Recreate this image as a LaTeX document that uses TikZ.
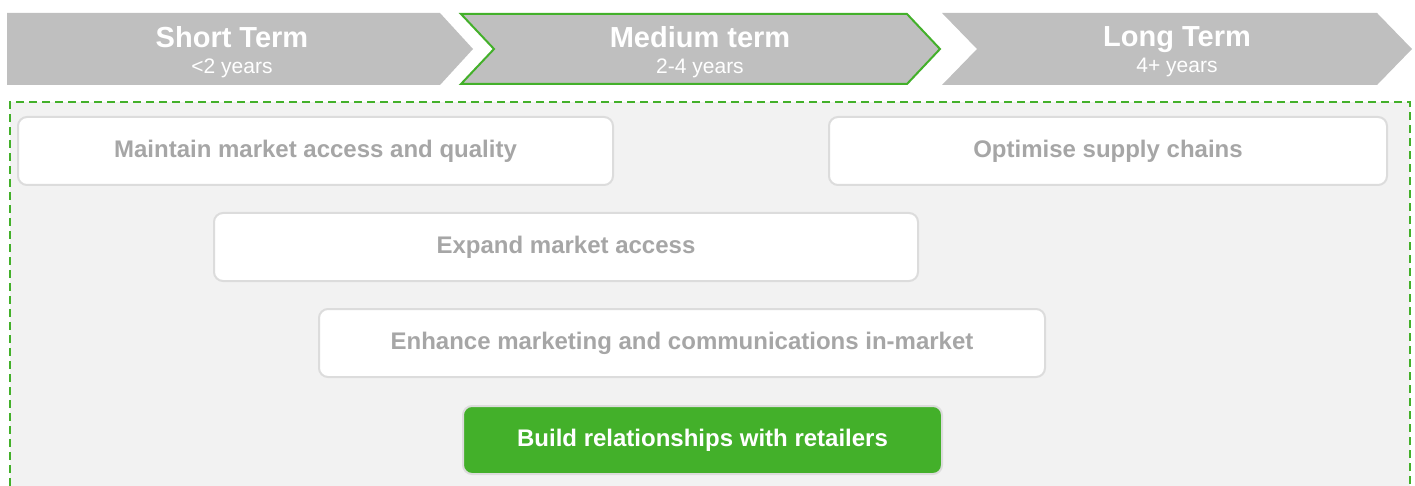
\documentclass[tikz,border=0pt]{standalone}
\usepackage{fontspec}
\setmainfont{Liberation Sans}
\definecolor{kgreen}{HTML}{43B02A}
\definecolor{phasegray}{HTML}{BFBFBF}
\definecolor{boxline}{HTML}{DCDCDC}
\definecolor{boxtext}{HTML}{A6A6A6}
\definecolor{panel}{HTML}{F2F2F2}
\tikzset{
  phasetext/.style={text=white, align=center, font=\fontsize{21}{26}\selectfont},
  goal/.style={draw=boxline, line width=2pt, fill=white, rounded corners=9pt,
    minimum height=68pt, inner sep=0pt, text=boxtext,
    font=\bfseries\fontsize{24}{28}\selectfont},
  keygoal/.style={goal, fill=kgreen, text=white}
}
\begin{document}
\begin{tikzpicture}[x=1pt, y=-1pt]
      \useasboundingbox (0,0) rectangle (1415,486);

      % time phases
      \fill [phasegray] (7,13) -- (440,13) -- (473,49) -- (440,85) -- (7,85) -- cycle;
      \draw [fill=phasegray, draw=kgreen, line width=2pt] (461,14) -- (907,14) -- (940,49) -- (907,84) -- (461,84) -- (494,49) -- cycle;
      \fill [phasegray] (942,13) -- (1377,13) -- (1412,49) -- (1377,85) -- (942,85) -- (977,49) -- cycle;

      \node [phasetext] (short) at (232,52) {{\bfseries\fontsize{29}{26}\selectfont Short Term}\\<2 years};
      \node [phasetext] (medium) at (700,52) {{\bfseries\fontsize{29}{26}\selectfont Medium term}\\2-4 years};
      \node [phasetext] (long) at (1177,52) {{\bfseries\fontsize{29}{26}\selectfont Long Term}\\4+ years};

      % panel
      \fill [panel] (10,102) rectangle (1410,486);
      \draw [kgreen, line width=2pt, dash pattern=on 8pt off 5pt] (10,486) -- (10,102) -- (1410,102) -- (1410,486);

      % goals
      \node [goal, minimum width=595pt] (maintain) at (315.5,151) {Maintain market access and quality};
      \node [goal, minimum width=558pt] (optimise) at (1108,151) {Optimise supply chains};
      \node [goal, minimum width=704pt] (expand) at (566,247) {Expand market access};
      \node [goal, minimum width=726pt] (enhance) at (682,343) {Enhance marketing and communications in-market};
      \node [keygoal, minimum width=479pt] (retail) at (702.5,440) {Build relationships with retailers};
\end{tikzpicture}
\end{document}
